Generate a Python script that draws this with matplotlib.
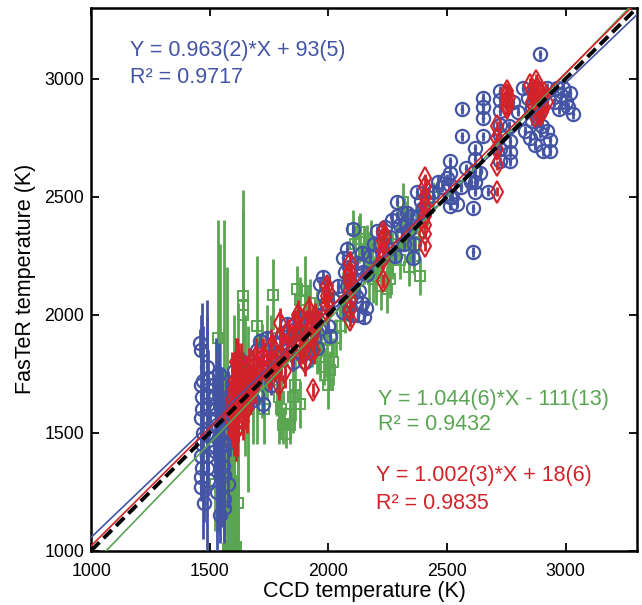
import matplotlib
matplotlib.use("Agg")
import matplotlib.pyplot as plt
import numpy as np

plt.rcParams['font.family'] = ['Liberation Sans', 'DejaVu Sans']

# ---------------- data ----------------
blue_x = [1460,1462,1465,1468,1466,1464,1470,1467,1463,1468,1465,1462,1470,
          1490,1492,1488,1491,1495,1489,1493,1490,1487,1494,
          1515,1520,1525,1530,1535,1540,1545,1550,1555,1560,1565,1570,1575,1580,1585,1590,1595,1550,1540,1530,1560,1575,1520,1545,
          1610,1630,1650,1680,1700,1712,1725,1725,1740,1750,1760,1700,1680,1740,1770,
          1800,1825,1840,1860,1880,1900,1920,1940,1965,1977,1965,1990,2000,2007,1850,1900,1950,1880,
          2061,2070,2080,2090,2100,2110,2120,2130,2140,2150,2163,2104,2080,2140,2160,
          2205,2220,2240,2260,2280,2300,2320,2340,2356,2289,2289,2373,2250,2380,2400,2330,
          2480,2500,2520,2540,2560,2600,2609,2609,2512,2512,2512,2512,2512,2617,2617,2617,2617,2617,2563,2563,2651,2651,2651,2651,2672,2580,2640,
          2723,2723,2723,2723,2723,2723,2723,2765,2765,2765,2820,2840,2860,2880,2900,2920,2830,2850,2870,2921,2933,2933,2904,2891,2963,2980,3000,3010,3030,2990,3020,2800,2780,2760,
          1560,1545,1475,1600,1620,1640,1660,1690,1720,1780,1790,1810,1830,1870,1890,1910,1930,1960,1980,2020,2040,2060,2085,2115,2125,2145,2175,2190,2230,2270,2310,2350,2360,2390,2420,2440,2460,2870,2860,2890,2950,2970]
blue_y = [1880,1850,1700,1650,1600,1560,1500,1450,1400,1350,1310,1270,1720,
          1780,1730,1660,1620,1560,1500,1440,1400,1350,1300,
          1700,1650,1600,1560,1520,1480,1440,1400,1360,1320,1600,1640,1560,1500,1460,1540,1620,1700,1750,1250,1220,1280,1420,1620,
          1700,1750,1720,1800,1850,1890,1820,1620,1780,1850,1700,1660,1640,1900,1880,
          1880,1960,1900,1940,1870,1960,1850,1900,2000,2160,2130,2050,1950,1910,1800,1800,1860,1990,
          2240,2180,2120,2060,2000,2150,2220,2100,2050,1990,2170,2363,2280,2260,2030,
          2355,2300,2370,2330,2250,2380,2300,2360,2240,2479,2419,2521,2280,2420,2450,2430,
          2540,2577,2500,2470,2540,2560,2450,2265,2650,2600,2550,2500,2462,2705,2660,2610,2560,2521,2872,2756,2919,2880,2833,2756,2521,2620,2600,
          2949,2910,2863,2803,2760,2700,2650,2735,2690,2650,2962,2920,2880,2840,2800,2960,2780,2748,2718,2778,2740,2692,2692,3103,2962,2930,2900,2880,2850,2960,2940,2860,2900,2800,
          1180,1150,1200,1760,1680,1800,1760,1720,1760,1820,1760,1920,1850,1920,1830,1900,1960,1940,2080,2060,2120,2010,2200,2080,2000,2180,2250,2300,2250,2400,2340,2420,2300,2480,2500,2520,2560,2960,2820,2770,2900,2870]
blue_err = [60,50,300,400,150,100,450,200,150,100,80,60,80,
            60,120,400,100,80,500,100,80,60,70,
            50,80,300,150,100,400,200,300,150,100,60,80,200,100,60,80,60,80,100,250,150,100,120,150,
            40,50,40,40,30,30,40,40,30,30,40,50,40,30,30,
            30,30,30,30,30,30,30,30,30,30,30,30,30,30,40,30,30,30,
            30,30,30,30,30,30,30,30,30,30,30,20,30,30,30,
            20,30,30,30,30,30,30,30,30,20,20,20,30,30,30,30,
            20,20,20,20,20,20,20,20,20,20,20,20,20,20,20,20,20,20,20,20,20,20,20,20,20,20,20,
            20,20,20,20,20,20,20,20,20,20,20,20,20,20,20,20,20,20,20,20,20,20,20,20,20,20,20,20,20,20,20,20,20,20,
            150,120,80,60,50,40,40,40,30,30,30,30,30,30,30,30,30,30,30,30,30,30,30,30,30,30,30,30,30,30,30,30,30,30,30,30,30,20,20,20,20,20]

green_x = [1522,1535,1545,1560,1573,1575,1585,1590,1598,1600,1610,1620,1620,1640,1640,1640,1600,1650,1660,1680,1700,1720,1730,
           1767,1760,1783,1790,1800,1810,1838,1820,1840,1850,1868,1880,1900,1910,1922,1900,1930,1950,1965,1980,1994,2005,2019,2030,2050,2070,
           2104,2110,2130,2133,2150,2163,2170,2188,2200,2220,2247,2250,2270,2290,2314,2320,2330,2343,2340,2360,2386,2380,2400,2420,2440,
           1700,1740,1860,1880,1950,1970,2000,2060,2090,2180,2210,2260,2300,2350,2370]
green_y = [1282,1900,1700,1600,1500,1005,1010,1020,1295,1008,1015,1200,1550,2077,2040,2000,1400,1700,1600,1650,1700,1760,1600,
           2085,1900,1722,1650,1600,1530,1530,1496,1580,1650,2107,2060,2100,2000,2051,1950,1900,1850,1820,1780,1850,1765,1800,1900,1950,2000,
           2363,2300,2320,2350,2250,2280,2200,2150,2162,2120,2107,2200,2250,2300,2479,2420,2380,2300,2200,2250,2162,2350,2400,2450,2500,
           1950,1840,1700,1620,2000,1900,1700,2100,2050,2300,2250,2150,2230,2300,2400]
green_err = [200,500,600,800,700,400,500,600,300,350,300,400,500,450,400,350,600,300,350,200,250,200,150,
             150,100,150,200,100,80,80,60,100,150,100,100,150,120,100,100,120,100,100,80,120,80,100,80,100,80,
             80,80,100,80,120,100,150,100,120,100,100,80,100,80,80,80,100,80,80,80,80,80,60,60,60,
             300,200,150,100,100,80,100,80,80,100,100,80,80,80,60]

red_x = [1585,1590,1595,1600,1605,1610,1615,1619,1625,1630,1640,1650,1660,1670,1680,1690,1700,1610,1600,1640,
         1712,1725,1740,1760,1780,1796,1796,1800,1815,1826,1750,1790,
         1851,1860,1870,1880,1890,1900,1910,1920,1930,1940,1952,1935,1880,
         1994,1994,1994,1994,2091,2091,2091,2091,2091,2091,2091,
         2230,2230,2230,2230,2230,
         2407,2407,2407,2407,2407,2407,2407,2407,
         2752,2752,2752,2752,2752,2710,2710,2710,2710,2710,
         2849,2860,2870,2880,2890,2900,2910,2921,2870,2860,2880,2900,2890,
         1620,1635,1655,1665,1675,1695,1770,1830,1845,1905,1925,1945,2000,2085,2235,2865,2875,2895,2760]
red_y = [1560,1600,1640,1680,1720,1580,1650,1521,1700,1760,1620,1680,1720,1660,1750,1700,1780,1800,1500,1550,
         1760,1820,1790,1860,1800,1966,1900,1830,1760,1860,1740,1700,
         1900,1960,2000,1930,1850,1800,1960,2020,1900,1850,1960,1679,1870,
         2120,2080,2040,2009,2220,2180,2140,2100,2060,2021,1979,
         2350,2310,2270,2235,2141,
         2577,2540,2500,2460,2420,2380,2340,2291,
         2949,2930,2910,2890,2876,2799,2750,2700,2632,2521,
         2974,2950,2920,2900,2880,2860,2940,2900,2842,2900,2960,2920,2846,
         1760,1640,1600,1780,1700,1820,1780,1920,1840,1900,1950,1990,2100,2160,2330,2880,2990,2940,2920]
red_err = [80,120,200,150,100,200,250,60,150,120,100,150,100,80,100,80,80,100,100,80,
           60,80,60,80,70,60,60,80,70,60,60,60,
           60,60,60,60,60,60,60,60,60,60,60,30,50,
           40,40,40,40,50,50,50,50,50,50,30,
           40,40,40,40,30,
           20,20,20,20,20,20,20,20,
           30,30,30,30,30,20,20,20,20,20,
           30,30,30,30,30,30,30,30,20,30,30,30,30,
           120,150,100,80,80,80,60,60,60,60,60,60,40,50,40,30,30,30,30]

fits = {
    'blue':  (0.963, 93),
    'green': (1.044, -111),
    'red':   (1.002, 18),
}
fit_texts = {
    'blue':  ("Y = 0.963(2)*X + 93(5)", "R\u00b2 = 0.9717"),
    'green': ("Y = 1.044(6)*X - 111(13)", "R\u00b2 = 0.9432"),
    'red':   ("Y = 1.002(3)*X + 18(6)", "R\u00b2 = 0.9835"),
}

BLUE = '#4454A4'
GREEN = '#5AA552'
RED = '#D2232A'

fig = plt.figure(figsize=(6.42, 6.05), dpi=100)
ax = fig.add_axes([0.142, 0.090, 0.850, 0.897])

# green squares
ax.errorbar(green_x, green_y, yerr=green_err, fmt='s', ms=7, mfc='none', mec=GREEN,
            mew=1.4, ecolor=GREEN, elinewidth=2.0, capsize=0, zorder=2)
# blue circles with centre dot
ax.errorbar(blue_x, blue_y, yerr=blue_err, fmt='o', ms=9.5, mfc='none', mec=BLUE,
            mew=1.6, ecolor=BLUE, elinewidth=2.0, capsize=0, zorder=3)
ax.plot(blue_x, blue_y, '.', color=BLUE, ms=3.2, zorder=3)
# red diamonds
ax.errorbar(red_x, red_y, yerr=red_err, fmt='d', ms=11, mfc='none', mec=RED,
            mew=1.5, ecolor=RED, elinewidth=2.0, capsize=0, zorder=4)

xx = np.array([1000, 3300])
ax.plot(xx, fits['blue'][0]*xx + fits['blue'][1], color=BLUE, lw=1.2, zorder=5)
ax.plot(xx, fits['green'][0]*xx + fits['green'][1], color=GREEN, lw=1.2, zorder=5)
ax.plot(xx, xx, color='black', lw=2.8, ls=(0, (3, 1.5)), zorder=6)
ax.plot(xx, fits['red'][0]*xx + fits['red'][1], color=RED, lw=1.2, zorder=7)

fs = 15.5
ax.text(1164, 3120, fit_texts['blue'][0], color=BLUE, fontsize=fs, va='center')
ax.text(1164, 3004, fit_texts['blue'][1], color=BLUE, fontsize=fs, va='center')
ax.text(2209, 1641, fit_texts['green'][0], color=GREEN, fontsize=fs, va='center')
ax.text(2209, 1534, fit_texts['green'][1], color=GREEN, fontsize=fs, va='center')
ax.text(2200, 1316, fit_texts['red'][0], color=RED, fontsize=fs, va='center')
ax.text(2200, 1201, fit_texts['red'][1], color=RED, fontsize=fs, va='center')

ax.set_xlim(1000, 3300)
ax.set_ylim(1000, 3300)
ax.set_xticks([1000, 1500, 2000, 2500, 3000])
ax.set_yticks([1000, 1500, 2000, 2500, 3000])
ax.tick_params(direction='in', top=True, right=True, length=6, width=1.3, labelsize=12.8)
ax.tick_params(axis='x', pad=9)
ax.tick_params(axis='y', pad=5)
for s in ax.spines.values():
    s.set_linewidth(1.8)
ax.set_xlabel('CCD temperature (K)', fontsize=15.5, labelpad=1)
ax.set_ylabel('FasTeR temperature (K)', fontsize=15.5, labelpad=6)

fig.savefig('out.png', dpi=100)
